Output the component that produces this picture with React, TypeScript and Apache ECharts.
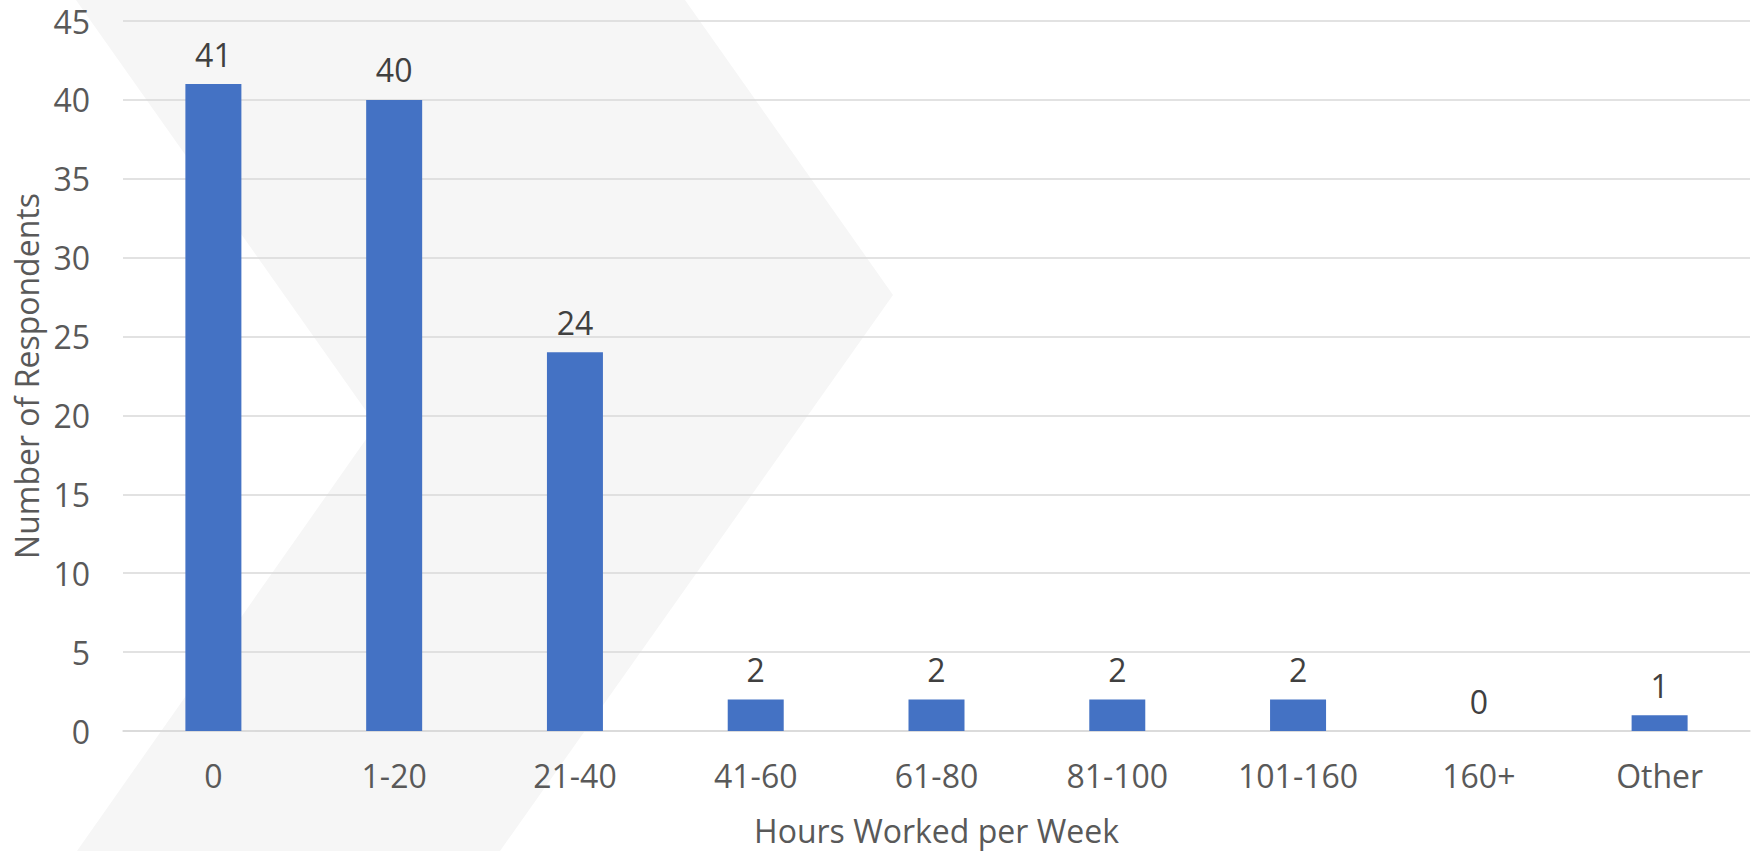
import { useEffect, useRef } from "react";
import * as echarts from "echarts";

// Survey responses: weekly working hours
const categories = ["0", "1-20", "21-40", "41-60", "61-80", "81-100", "101-160", "160+", "Other"];
const respondents = [41, 40, 24, 2, 2, 2, 2, 0, 1];

const yMin = 0;
const yMax = 45;
const yStep = 5;

const xTitle = "Hours Worked per Week";
const yTitle = "Number of Respondents";

const FONT = "'Open Sans', 'Noto Sans', sans-serif";
const FONT_SIZE = 32;
const AXIS_TEXT = "#595959";
const LABEL_TEXT = "#404040";
const BAR_BLUE = "#4472C4";
const GRID_GRAY = "#d9d9d9";

export default function App() {
  const ref = useRef<HTMLDivElement>(null);

  useEffect(() => {
    document.body.style.margin = "0";
    if (!ref.current) return;
    const chart = echarts.init(ref.current, null, { renderer: "svg" });

    chart.setOption({
      animation: false,
      backgroundColor: "#ffffff",
      textStyle: { fontFamily: FONT },
      graphic: [
        {
          // light chevron behind the plot
          type: "polygon",
          z: -10,
          silent: true,
          shape: {
            points: [
              [76, 0],
              [685, 0],
              [893, 295],
              [500, 851],
              [77, 851],
              [376, 425],
            ],
          },
          style: { fill: "#f6f6f6" },
        },
      ],
      grid: { left: 123, right: 6, top: 21, bottom: 116, containLabel: false },
      xAxis: {
        type: "category",
        data: categories,
        name: xTitle,
        nameLocation: "middle",
        nameGap: 83,
        nameTextStyle: { color: AXIS_TEXT, fontSize: FONT_SIZE, fontFamily: FONT },
        axisLine: { show: true, lineStyle: { color: GRID_GRAY, width: 1.5 } },
        axisTick: { show: false },
        axisLabel: { color: AXIS_TEXT, fontSize: FONT_SIZE, fontFamily: FONT, margin: 28 },
      },
      yAxis: {
        type: "value",
        min: yMin,
        max: yMax,
        interval: yStep,
        name: yTitle,
        nameLocation: "middle",
        nameGap: 79,
        nameTextStyle: { color: AXIS_TEXT, fontSize: FONT_SIZE, fontFamily: FONT },
        axisLine: { show: false },
        axisTick: { show: false },
        axisLabel: { color: AXIS_TEXT, fontSize: FONT_SIZE, fontFamily: FONT, margin: 33 },
        splitLine: { lineStyle: { color: GRID_GRAY, width: 1.5 } },
      },
      series: [
        {
          type: "bar",
          data: respondents,
          barWidth: 56,
          itemStyle: { color: BAR_BLUE },
          label: {
            show: true,
            position: "top",
            distance: 14,
            color: LABEL_TEXT,
            fontSize: FONT_SIZE,
            fontFamily: FONT,
          },
        },
      ],
    });

    return () => chart.dispose();
  }, []);

  return <div ref={ref} style={{ width: 1756, height: 851 }} />;
}
